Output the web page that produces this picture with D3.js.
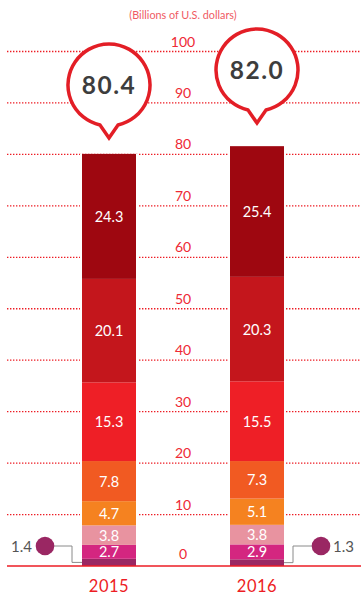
<!DOCTYPE html>
<html><head><meta charset="utf-8">
<script src="https://cdn.jsdelivr.net/npm/d3@7"></script>
<style>
html,body{margin:0;padding:0;background:#fff;}
svg{display:block;font-family:Lato,"Open Sans",sans-serif;}
</style></head>
<body><svg id="c" width="361" height="597"></svg>
<script>
// ---- data ----
const years = ["2015", "2016"];
const totals = [80.4, 82.0];
// segments from bottom to top
const values2015 = [1.4, 2.7, 3.8, 4.7, 7.8, 15.3, 20.1, 24.3];
const values2016 = [1.3, 2.9, 3.8, 5.1, 7.3, 15.5, 20.3, 25.4];
const segmentColors = ["#9a2763", "#d42680", "#e893a0", "#f58220", "#f15a22", "#ee1f26", "#c4161c", "#9e0710"];
const tickValues = [0, 10, 20, 30, 40, 50, 60, 70, 80, 90, 100];
const unitLabel = "(Billions of U.S. dollars)";

const svg = d3.select("#c");
const W = 361;
const red = "#ed1c24";

const y = d3.scaleLinear().domain([0, 100]).range([566, 51.5]);
const x = d3.scalePoint().domain(years).range([109, 257]);
const barW = 54;
const fmt = d3.format(".1f");

// title
svg.append("text").attr("x", 183).attr("y", 19).attr("text-anchor", "middle")
  .attr("font-size", 10.8).attr("fill", "#f05a63").text(unitLabel);

// gridlines
svg.append("g").selectAll("line").data(tickValues.filter(d => d > 0)).join("line")
  .attr("x1", 7).attr("x2", W).attr("y1", d => y(d)).attr("y2", d => y(d))
  .attr("stroke", red).attr("stroke-width", 1.3).attr("stroke-dasharray", "1.4,1.6");

// tick labels
svg.append("g").selectAll("text").data(tickValues).join("text")
  .attr("x", 183).attr("y", d => y(d) - (d === 0 ? 7 : 5)).attr("text-anchor", "middle")
  .attr("font-size", 14).attr("fill", "#ee2a35").text(d => d);

// bars
const allValues = [values2015, values2016];
years.forEach((yr, i) => {
  const vals = allValues[i];
  const cx = x(yr);
  const g = svg.append("g");
  const total = d3.sum(vals);
  g.append("rect").attr("x", cx - barW / 2 - 2).attr("width", barW + 4)
    .attr("y", y(total)).attr("height", y(0) - y(total)).attr("fill", "#fff");
  let cum = 0;
  const segs = vals.map((v, k) => { const s = {v, k, y0: cum, y1: cum + v}; cum += v; return s; });
  g.selectAll("rect.seg").data(segs).join("rect").attr("class", "seg")
    .attr("x", cx - barW / 2).attr("width", barW)
    .attr("y", d => y(d.y1)).attr("height", d => y(d.y0) - y(d.y1))
    .attr("fill", d => segmentColors[d.k]);
  g.selectAll("text").data(segs.filter(d => d.k > 0)).join("text")
    .attr("x", cx).attr("y", d => (y(d.y0) + y(d.y1)) / 2 + 5.5)
    .attr("text-anchor", "middle").attr("font-size", 14.5).attr("fill", "#fff")
    .text(d => fmt(d.v));
});

// baseline
svg.append("line").attr("x1", 7).attr("x2", W).attr("y1", y(0)).attr("y2", y(0))
  .attr("stroke", red).attr("stroke-width", 1.6);

// callouts for bottom segment
const calloutColor = "#9a2763";
[0, 1].forEach(i => {
  const v = allValues[i][0];
  const cx = x(years[i]);
  const segMid = y(v / 2);
  const cy = 546;
  const left = i === 0;
  const barEdge = left ? cx - barW / 2 : cx + barW / 2;
  const elbow = left ? 72 : 293;
  const circX = left ? 45 : 321;
  svg.append("path")
    .attr("d", `M${barEdge},${segMid}H${elbow}V${cy}H${circX}`)
    .attr("fill", "none").attr("stroke", "#8a8a8a").attr("stroke-width", 1);
  svg.append("circle").attr("cx", circX).attr("cy", cy).attr("r", 9.3).attr("fill", calloutColor);
  svg.append("text").attr("x", left ? circX - 13 : circX + 12).attr("y", cy + 5.5)
    .attr("text-anchor", left ? "end" : "start").attr("font-size", 15).attr("fill", "#555")
    .text(fmt(v));
});

// year labels
svg.append("g").selectAll("text").data(years).join("text")
  .attr("x", d => x(d)).attr("y", 592).attr("text-anchor", "middle")
  .attr("font-size", 16.5).attr("fill", red).attr("letter-spacing", 0.5).text(d => d);

// bubbles
const bubbleCY = [85, 70];
const r = 41;
years.forEach((yr, i) => {
  const cx = x(yr), cy = bubbleCY[i];
  const a = Math.asin(9 / r);
  const bx = r * Math.sin(a), by = r * Math.cos(a);
  const tipY = cy + r + 12;
  const path = `M${cx - bx},${cy + by} A${r},${r} 0 1 1 ${cx + bx},${cy + by} L${cx},${tipY} Z`;
  svg.append("path").attr("d", path).attr("fill", "#fff")
    .attr("stroke", "#e31e26").attr("stroke-width", 3.5).attr("stroke-linejoin", "miter");
  svg.append("text").attr("x", cx).attr("y", cy + 9).attr("text-anchor", "middle")
    .attr("font-size", 24.5).attr("font-weight", "bold").attr("letter-spacing", 1.5)
    .attr("fill", "#3d3d3d").text(fmt(totals[i]));
});
</script></body></html>
